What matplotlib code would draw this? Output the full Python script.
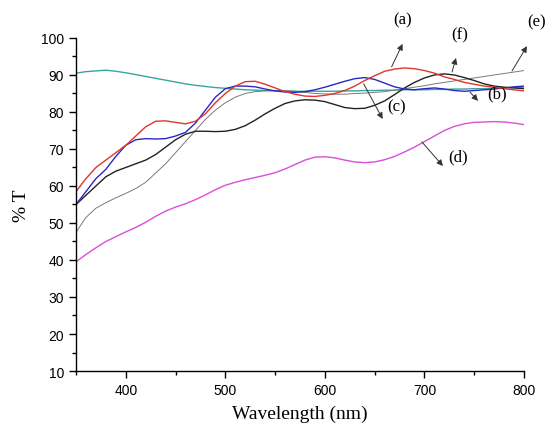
import matplotlib
matplotlib.use("Agg")
import matplotlib.pyplot as plt
from matplotlib.ticker import MultipleLocator

wavelength = list(range(350, 801, 10))

curve_a_red = [58.5, 62, 65, 67, 69, 71, 73.5, 76, 77.5, 77.6, 77.2, 76.8, 77.5, 79.5, 82.5, 85,
               87, 88.2, 88.3, 87.5, 86.5, 85.5, 84.8, 84.3, 84.2, 84.5, 85, 85.8, 87, 88.5, 89.8,
               91, 91.6, 91.9, 91.7, 91.2, 90.5, 89.5, 88.8, 88, 87.5, 87, 86.7, 86.3, 86, 85.7]
curve_b_blue = [55, 58.5, 62, 64.5, 68, 71, 72.5, 72.8, 72.7, 72.8, 73.5, 74.5, 77, 80.5, 84, 86.3,
                87, 87, 86.8, 86.2, 85.7, 85.4, 85.3, 85.5, 86, 86.7, 87.5, 88.3, 89, 89.3, 88.8,
                87.8, 86.8, 86.2, 86, 86.3, 86.5, 86.2, 85.8, 85.6, 85.8, 86, 86.2, 86.5, 86.8, 87]
curve_f_black = [55, 57.5, 60, 62.5, 64, 65, 66, 67, 68.5, 70.5, 72.5, 74, 74.8, 74.8, 74.7, 74.8,
                 75.3, 76.3, 77.8, 79.5, 81, 82.3, 83, 83.3, 83.2, 82.8, 82, 81.2, 80.9, 81, 81.8,
                 83, 84.7, 86.5, 88, 89.2, 90, 90.3, 90, 89.3, 88.5, 87.6, 87, 86.7, 86.5, 86.3]
curve_e_gray = [47.5, 51.5, 54, 55.5, 56.8, 58, 59.3, 61, 63.5, 66, 69, 72, 75, 78, 80.5, 82.5,
                84, 85, 85.5, 85.7, 85.8, 85.8, 85.6, 85.3, 85, 84.9, 84.8, 84.8, 85, 85.1, 85.3,
                85.5, 85.9, 86.3, 86.7, 87.1, 87.6, 88, 88.4, 88.8, 89.2, 89.6, 90, 90.4, 90.8, 91.2]
curve_teal = [90.5, 90.9, 91.1, 91.3, 91, 90.6, 90.1, 89.6, 89.1, 88.6, 88.1, 87.6, 87.2, 86.9, 86.6,
              86.4, 86.2, 86, 85.9, 85.8, 85.7, 85.7, 85.6, 85.6, 85.6, 85.6, 85.6, 85.7, 85.7, 85.8,
              85.8, 85.9, 85.9, 86, 86, 86, 86.1, 86.1, 86.2, 86.2, 86.3, 86.3, 86.4, 86.5, 86.6, 86.7]
curve_d_magenta = [39.5, 41.5, 43.3, 45, 46.3, 47.6, 48.8, 50.2, 51.8, 53.2, 54.3, 55.2, 56.3, 57.6,
                   59, 60.2, 61, 61.7, 62.3, 62.9, 63.6, 64.6, 65.8, 67, 67.8, 67.9, 67.6, 67, 66.5,
                   66.3, 66.5, 67.1, 68, 69.2, 70.5, 72, 73.5, 75, 76.1, 76.8, 77.2, 77.3, 77.4,
                   77.3, 77, 76.6]

# annotation: label, curve point (wl, T), arrow head (wl, T), label position (wl, T)
labels = ["(a)", "(f)", "(e)", "(b)", "(c)", "(d)"]
arrow_start = [(667, 92.2), (727.7, 90.8), (788, 91.1), (745.7, 85.4), (639, 87.6), (697.5, 71.9)]
arrow_end = [(678, 98.4), (731.7, 94.6), (803, 97.8), (753.8, 83.0), (658, 78.1), (718.6, 65.4)]
label_pos = [(678.5, 104.9), (735.7, 101.1), (813, 104.6), (773, 84.9), (672, 81.6), (733.7, 68.1)]

fig = plt.figure(figsize=(5.48, 4.27), dpi=100)
ax = fig.add_axes([0.1387, 0.1288, 0.8175, 0.7799])

ax.plot(wavelength, curve_teal, color="#3aa59a", lw=1.0)
ax.plot(wavelength, curve_e_gray, color="#7a7a7a", lw=0.7)
ax.plot(wavelength, curve_f_black, color="#222222", lw=1.0)
ax.plot(wavelength, curve_b_blue, color="#2828c8", lw=1.0)
ax.plot(wavelength, curve_a_red, color="#e0352b", lw=1.0)
ax.plot(wavelength, curve_d_magenta, color="#d94fd9", lw=1.0)

for lab, s, e, p in zip(labels, arrow_start, arrow_end, label_pos):
    ax.annotate("", xy=e, xytext=s,
                arrowprops=dict(arrowstyle="-|>", color="#333333", lw=0.7,
                                mutation_scale=9, shrinkA=0, shrinkB=0),
                annotation_clip=False)
    ax.text(p[0], p[1], lab, family="Liberation Serif", fontsize=12,
            ha="center", va="center", clip_on=False)

ax.set_xlim(350, 800)
ax.set_ylim(10, 100)
ax.xaxis.set_major_locator(MultipleLocator(100))
ax.xaxis.set_minor_locator(MultipleLocator(50))
ax.yaxis.set_major_locator(MultipleLocator(10))
ax.yaxis.set_minor_locator(MultipleLocator(5))
ax.set_xticks([400, 500, 600, 700, 800])

ax.spines["top"].set_visible(False)
ax.spines["right"].set_visible(False)
for sp in ("left", "bottom"):
    ax.spines[sp].set_linewidth(1.0)

ax.tick_params(which="major", direction="out", length=5, width=1.0, labelsize=10)
ax.tick_params(which="minor", direction="out", length=3, width=1.0)
for t in ax.get_xticklabels() + ax.get_yticklabels():
    t.set_family("Liberation Sans")

ax.set_xlabel("Wavelength (nm)", family="Liberation Serif", fontsize=14, labelpad=6)
ax.set_ylabel("% T", family="Liberation Serif", fontsize=14, labelpad=8)

fig.savefig("out.png", dpi=100)
